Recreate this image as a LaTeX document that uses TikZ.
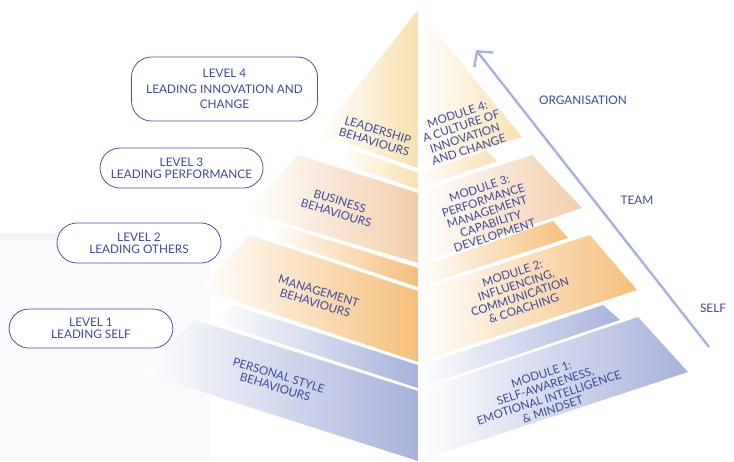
\documentclass[tikz,border=0pt]{standalone}
\usepackage{fontspec}
\setmainfont{Lato}
\usetikzlibrary{arrows.meta}
\definecolor{txt}{HTML}{3C4A9C}
\definecolor{boxline}{HTML}{4856A6}
\definecolor{yel}{HTML}{F8E1B0}
\definecolor{peach}{HTML}{F2CDAA}
\definecolor{orng}{HTML}{F5BF7B}
\definecolor{blu}{HTML}{A7B2DA}
\definecolor{arr}{HTML}{A6B2DD}
\definecolor{bgfaint}{HTML}{FAFBFD}
\definecolor{bgstripe}{HTML}{F2F4F9}
\begin{document}
\begin{tikzpicture}[x=1pt,y=-1pt,
  levelbox/.style={draw=boxline,line width=0.8pt,fill=white,rounded corners=20pt,
    align=center,text=txt,font=\fontsize{11.8}{12}\selectfont,inner sep=0pt},
  plabel/.style={align=center,text=txt,font=\fontsize{11.6}{12.3}\selectfont,inner sep=0pt},
  sidelabel/.style={text=txt,font=\fontsize{11.8}{12}\selectfont,inner sep=0pt}]
\useasboundingbox (0,0) rectangle (734,461);
% faint background on the left
\fill[bgfaint] (0,233) rectangle (210,461);
\fill[bgstripe] (0,233) rectangle (210,240);
% ---------- left face ----------
\shade[left color=white,right color=yel] (418,10) -- (418,168) -- (320,134) -- cycle;
\shade[left color=white,right color=yel] (350,149) -- (418,173) -- (418,189) -- (339,162) -- cycle;
\shade[left color=white,right color=peach] (298,155) -- (418,193) -- (418,263) -- (247,212) -- cycle;
\shade[left color=white,right color=orng] (280,225) -- (418,268) -- (418,287) -- (270,238) -- cycle;
\shade[left color=white,right color=orng] (250,235) -- (418,291) -- (418,362) -- (200,289) -- cycle;
\shade[left color=white,right color=blu] (232,305) -- (418,365) -- (418,388) -- (215,322) -- cycle;
\shade[left color=white,right color=blu] (195,320) -- (418,391) -- (418,461) -- (143,373) -- cycle;
% ---------- right face ----------
\shade[left color=white,right color=yel] (418,10) -- (522,137) -- (418,170) -- cycle;
\shade[left color=white,right color=yel] (418,173) -- (486,151) -- (497,161) -- (418,188) -- cycle;
\shade[left color=white,right color=peach] (418,192) -- (532,155) -- (582,208) -- (418,263) -- cycle;
\shade[left color=white,right color=orng] (418,268) -- (553,221) -- (568,238) -- (418,287) -- cycle;
\shade[left color=white,right color=orng] (418,291) -- (590,235) -- (637,290) -- (418,362) -- cycle;
\shade[left color=white,right color=blu] (418,366) -- (603,305) -- (620,320) -- (418,388) -- cycle;
\shade[left color=white,right color=blu] (418,391) -- (638,317) -- (688,372) -- (418,461) -- cycle;
% ---------- pyramid labels ----------
\node[plabel,rotate=-17] (lead) at (376,136) {LEADERSHIP\\BEHAVIOURS};
\node[plabel,rotate=-17] (bus) at (338,207) {BUSINESS\\BEHAVIOURS};
\node[plabel,rotate=-17] (man) at (317,297) {MANAGEMENT\\BEHAVIOURS};
\node[plabel,rotate=-17] (pers) at (277,381) {PERSONAL STYLE\\BEHAVIOURS};
\node[plabel,rotate=18] (m4) at (463,132) {MODULE 4:\\A CULTURE OF\\INNOVATION\\AND CHANGE};
\node[plabel,rotate=18] (m3) at (487,212) {MODULE 3:\\PERFORMANCE\\MANAGEMENT\\CAPABILITY\\DEVELOPMENT};
\node[plabel,rotate=18] (m2) at (518,291) {MODULE 2:\\INFLUENCING,\\COMMUNICATION\\\& COACHING};
\node[plabel,rotate=18] (m1) at (547,392) {MODULE 1:\\SELF-AWARENESS,\\EMOTIONAL INTELLIGENCE\\\& MINDSET};
% ---------- level boxes ----------
\node[levelbox,minimum width=186pt,minimum height=64pt,font=\fontsize{11.8}{15.5}\selectfont] (lv4) at (224.5,89) {LEVEL 4\\LEADING INNOVATION AND\\CHANGE};
\node[levelbox,minimum width=163pt,minimum height=40pt] (lv3) at (181.5,168) {LEVEL 3\\LEADING PERFORMANCE};
\node[levelbox,minimum width=164pt,minimum height=40pt] (lv2) at (139,243) {LEVEL 2\\LEADING OTHERS};
\node[levelbox,minimum width=164pt,minimum height=39pt] (lv1) at (91,328.5) {LEVEL 1\\LEADING SELF};
% ---------- arrow ----------
\coordinate (arrs) at (709,347);
\coordinate (arre) at (476,50);
\draw[arr,line width=2.4pt,-{Straight Barb[length=11pt,width=24pt]}] (arrs) -- (arre);
\node[sidelabel] (org) at (583,100) {ORGANISATION};
\node[sidelabel] (team) at (637,200) {TEAM};
\node[sidelabel] (self) at (713,308) {SELF};
\end{tikzpicture}
\end{document}
